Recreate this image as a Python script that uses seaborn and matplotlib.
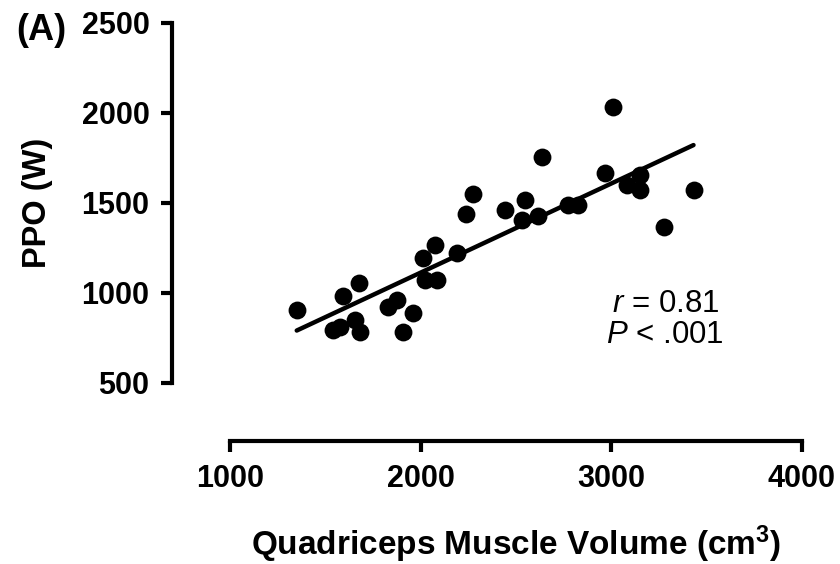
import matplotlib
matplotlib.use("Agg")
import matplotlib.pyplot as plt
import seaborn as sns

# Quadriceps muscle volume (cm^3) and peak power output (W) per participant
volume = [1350, 1542, 1577, 1591, 1656, 1678, 1682, 1831, 1875, 1906,
          1962, 2014, 2023, 2076, 2084, 2189, 2238, 2273, 2443, 2530,
          2548, 2618, 2635, 2775, 2827, 2967, 3011, 3081, 3151, 3151,
          3277, 3431]
ppo = [906, 794, 813, 983, 850, 1057, 785, 924, 961, 785,
       887, 1193, 1072, 1267, 1072, 1221, 1439, 1548, 1461, 1406,
       1517, 1428, 1757, 1489, 1489, 1665, 2035, 1600, 1656, 1572,
       1368, 1572]

x_ticks = [1000, 2000, 3000, 4000]
y_ticks = [500, 1000, 1500, 2000, 2500]
r_label = "0.81"
p_label = ".001"

sns.set_style("ticks")
plt.rcParams["font.family"] = ["Liberation Sans", "DejaVu Sans"]
plt.rcParams["mathtext.fontset"] = "custom"
plt.rcParams["mathtext.rm"] = "Liberation Sans"
plt.rcParams["mathtext.it"] = "Liberation Sans:italic"
plt.rcParams["mathtext.bf"] = "Liberation Sans:bold"
for key in ("text.color", "axes.labelcolor", "xtick.color", "ytick.color",
            "axes.edgecolor"):
    plt.rcParams[key] = "black"

fig = plt.figure(figsize=(8.4, 5.64), dpi=100)
ax = fig.add_axes([230 / 840, 1 - 383 / 564, 572 / 840, 360 / 564])

sns.regplot(x=volume, y=ppo, ax=ax, ci=None, truncate=True,
            scatter_kws=dict(s=165, color="black", linewidths=0, alpha=1),
            line_kws=dict(color="black", lw=3.2))

ax.set_xlim(x_ticks[0], x_ticks[-1])
ax.set_ylim(y_ticks[0], y_ticks[-1])
ax.set_xticks(x_ticks)
ax.set_yticks(y_ticks)

sns.despine(ax=ax, offset=42)
for side in ("left", "bottom"):
    ax.spines[side].set_linewidth(3)
    ax.spines[side].set_color("black")
ax.tick_params(axis="both", width=3, length=8, color="black", pad=8,
               labelsize=22, labelcolor="black")
for lbl in ax.get_xticklabels() + ax.get_yticklabels():
    lbl.set_fontweight("bold")

ax.set_xlabel(r"Quadriceps Muscle Volume (cm$^\mathbf{3}$)",
              fontweight="bold", fontsize=24)
ax.set_ylabel("PPO (W)", fontweight="bold", fontsize=23.5)
ax.xaxis.set_label_coords(0.5, -0.39)
ax.yaxis.set_label_coords(-0.31, 0.5)

ax.text(0.668, 0.196, r"$\it{r}$ = " + r_label, transform=ax.transAxes,
        fontsize=22.5, ha="left", va="baseline")
ax.text(0.658, 0.110, r"$\it{P}$ < " + p_label, transform=ax.transAxes,
        fontsize=22.5, ha="left", va="baseline")

fig.text(16 / 840, 1 - 31 / 564, "(A)", fontweight="bold", fontsize=26,
         ha="left", va="center")

fig.savefig("out.png", dpi=100, facecolor="white")
